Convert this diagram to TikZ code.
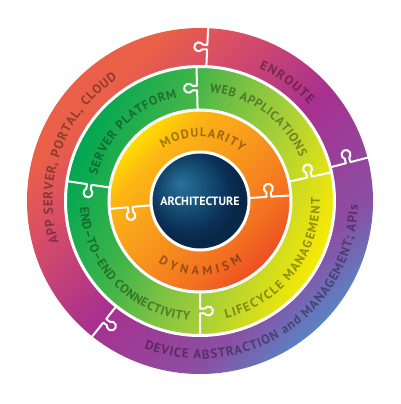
\documentclass[tikz,border=0pt]{standalone}
\usepackage{fontspec}
\setmainfont{PT Sans}
\usetikzlibrary{decorations.text}

\definecolor{oA}{HTML}{5B82C4}
\definecolor{oB}{HTML}{8A4FA3}
\definecolor{oC}{HTML}{A8308F}
\definecolor{oD}{HTML}{D84E66}
\definecolor{oE}{HTML}{EA6048}
\definecolor{gA}{HTML}{F6EC00}
\definecolor{gB}{HTML}{EEE60C}
\definecolor{gC}{HTML}{A6CE39}
\definecolor{gD}{HTML}{7DC242}
\definecolor{gE}{HTML}{45B549}
\definecolor{gF}{HTML}{00A651}
\definecolor{yA}{HTML}{EE4D24}
\definecolor{yB}{HTML}{F36F21}
\definecolor{yC}{HTML}{F7941D}
\definecolor{yD}{HTML}{FCB415}
\definecolor{yE}{HTML}{FFDF00}
\definecolor{nA}{HTML}{2C7299}
\definecolor{nB}{HTML}{154C74}
\definecolor{nC}{HTML}{0B3158}
\definecolor{nD}{HTML}{082848}

% the disc spans 25bp..75bp of each shading
\pgfdeclareverticalshading{outerS}{100bp}{color(0bp)=(oA); color(25bp)=(oA); color(32.7bp)=(oB); color(48.5bp)=(oC); color(63bp)=(oD); color(71bp)=(oE); color(100bp)=(oE)}
\pgfdeclareverticalshading{greenS}{100bp}{color(0bp)=(gA); color(25.1bp)=(gA); color(27.7bp)=(gB); color(41.6bp)=(gC); color(50bp)=(gD); color(58.7bp)=(gE); color(74.9bp)=(gF); color(100bp)=(gF)}
\pgfdeclareverticalshading{orangeS}{100bp}{color(0bp)=(yA); color(25bp)=(yA); color(34.6bp)=(yB); color(50bp)=(yC); color(66.5bp)=(yD); color(75bp)=(yE); color(100bp)=(yE)}
\pgfdeclareradialshading{navyS}{\pgfpoint{-10bp}{9bp}}{color(0bp)=(nA); color(12bp)=(nB); color(20bp)=(nC); color(25bp)=(nD); color(50bp)=(nD)}

\newcommand\ringfont{\bfseries\fontsize{12.5}{14}\selectfont}
\newcommand\outerfont{\bfseries\fontsize{13}{14}\selectfont}
\newcommand\puzzleknob[4]{%
  \begin{scope}[rotate=#1]
    \draw[knobline] (#2,0) -- ({#4-2.3},0) -- ({#4-2.3},4.63)
      arc[start angle=239.3, end angle=-59.3, radius=4.5pt]
      -- ({#4+2.3},0) -- (#3,0);
  \end{scope}}

\tikzset{
  knobline/.style={white, line width=2pt, line join=round},
  sep/.style={white, line width=3pt},
  ringtext/.style={decorate, decoration={text along path, text align={fit to path}, text={|\ringfont|#1}}},
  outertext/.style={decorate, decoration={text along path, text align={fit to path}, text={|\outerfont|#1}}}
}

\begin{document}
\begin{tikzpicture}[x=1pt, y=1pt]
\useasboundingbox (-200,-203) rectangle (200,201);

% rings
\shade[shading=outerS, shading angle=45] (0,0) circle[radius=173pt];
\shade[shading=greenS, shading angle=68] (0,0) circle[radius=134.5pt];
\shade[shading=orangeS, shading angle=45] (0,0) circle[radius=91pt];

% separators
\draw[sep] (0,0) circle[radius=134.5pt];
\draw[sep] (0,0) circle[radius=91pt];

% puzzle splits, outer ring
\puzzleknob{87.3}{134.5}{175}{154}
\puzzleknob{14.5}{134.5}{175}{153}
\puzzleknob{231.5}{134.5}{175}{153}
% green ring
\puzzleknob{91.5}{91}{134.5}{113}
\puzzleknob{171.5}{91}{134.5}{112}
\puzzleknob{12.3}{91}{134.5}{112}
\puzzleknob{270}{91}{134.5}{110}
% orange ring
\puzzleknob{185}{49}{91}{70}
\puzzleknob{3.5}{49}{91}{69}

% center
\shade[shading=navyS] (0,0) circle[radius=49pt];
\draw[white, line width=3pt] (0,0) circle[radius=49pt];
\node[text=white, font=\bfseries\fontsize{12}{14}\selectfont, inner sep=0pt] (arch) at (0,0) {ARCHITECTURE};

% ring texts
\begin{scope}[opacity=0.37]
\path[outertext={APP SERVER, PORTAL, CLOUD}] (196.5:147.5) arc[start angle=196.5, end angle=124, radius=147.5pt];
\path[outertext={ENROUTE}] (66:145.5) arc[start angle=66, end angle=41.5, radius=145.5pt];
\path[outertext={DEVICE ABSTRACTION and MANAGEMENT; APIs}] (249.3:158) arc[start angle=249.3, end angle=358.5, radius=158pt];
\path[ringtext={SERVER PLATFORM}] (166:106) arc[start angle=166, end angle=102.5, radius=106pt];
\path[ringtext={WEB APPLICATIONS}] (85:109) arc[start angle=85, end angle=23.5, radius=109pt];
\path[ringtext={LIFECYCLE MANAGEMENT}] (282.5:120) arc[start angle=282.5, end angle=361.5, radius=120pt];
\path[ringtext={END–TO–END CONNECTIVITY}] (183:120) arc[start angle=183, end angle=265, radius=120pt];
\path[ringtext={MODULARITY}] (125:64) arc[start angle=125, end angle=49.5, radius=64pt];
\path[ringtext={DYNAMISM}] (235.5:74) arc[start angle=235.5, end angle=305, radius=74pt];
\end{scope}
\end{tikzpicture}
\end{document}
